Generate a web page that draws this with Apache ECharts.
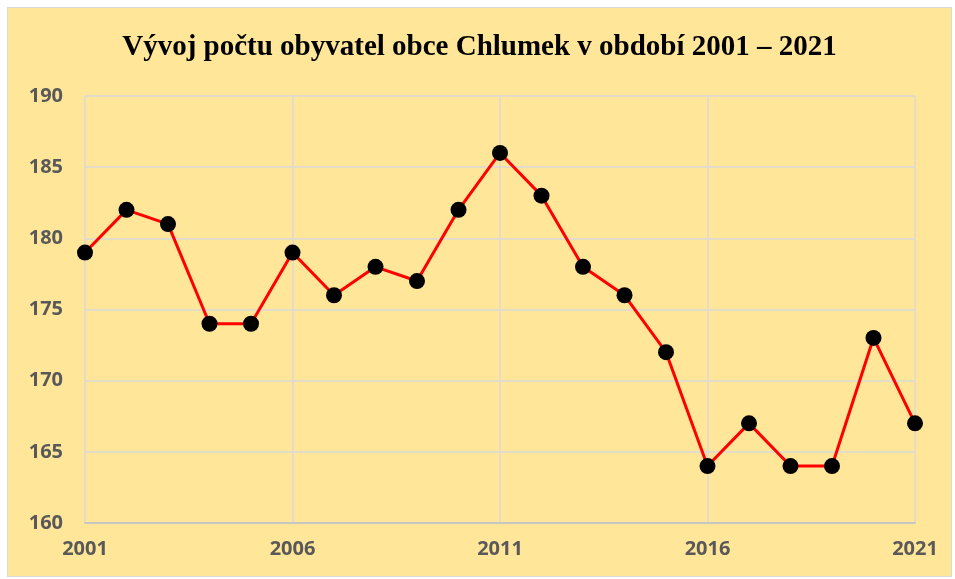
<!DOCTYPE html>
<html>
<head>
<meta charset="utf-8">
<script src="https://cdn.jsdelivr.net/npm/echarts@6/dist/echarts.min.js"></script>
<style>
  html, body { margin: 0; padding: 0; background: #fff; }
  #frame {
    position: absolute; left: 7px; top: 7px; width: 943px; height: 568px;
    border: 1px solid #d9d9d9; background: #ffe699;
  }
  #chart { width: 943px; height: 568px; }
</style>
</head>
<body>
<div id="frame"><div id="chart"></div></div>
<script>
const years = ['2001','2002','2003','2004','2005','2006','2007','2008','2009','2010',
  '2011','2012','2013','2014','2015','2016','2017','2018','2019','2020','2021']
const population = [179, 182, 181, 174, 174, 179, 176, 178, 177, 182,
  186, 183, 178, 176, 172, 164, 167, 164, 164, 173, 167]
const title = 'Vývoj počtu obyvatel obce Chlumek v období 2001 – 2021'

const myChart = echarts.init(document.getElementById('chart'))

const labelStyle = {
  color: '#595959',
  fontFamily: 'Open Sans, Liberation Sans, sans-serif',
  fontWeight: 'bold',
  fontSize: 20
}

myChart.setOption({
  animation: false,
  title: {
    text: title,
    left: 'center',
    top: 20,
    textStyle: {
      fontFamily: 'Liberation Serif, Times New Roman, serif',
      fontWeight: 'bold',
      fontSize: 29,
      color: '#000'
    }
  },
  grid: { left: 77, right: 36, top: 88, bottom: 53 },
  xAxis: {
    type: 'category',
    data: years,
    boundaryGap: false,
    axisLine: { lineStyle: { color: '#bfbfbf', width: 1.5 } },
    axisTick: { show: false },
    axisLabel: Object.assign({ interval: 4, margin: 16 }, labelStyle),
    splitLine: { show: true, interval: 4, lineStyle: { color: '#d9d9d9', width: 1.5 } }
  },
  yAxis: {
    type: 'value',
    min: 160,
    max: 190,
    interval: 5,
    axisLine: { show: false },
    axisTick: { show: false },
    axisLabel: Object.assign({ margin: 22 }, labelStyle),
    splitLine: { lineStyle: { color: '#d9d9d9', width: 1.5 } }
  },
  series: [{
    type: 'line',
    data: population,
    symbol: 'circle',
    symbolSize: 16,
    itemStyle: { color: '#000' },
    lineStyle: { color: '#ff0000', width: 3 }
  }]
})
</script>
</body>
</html>
